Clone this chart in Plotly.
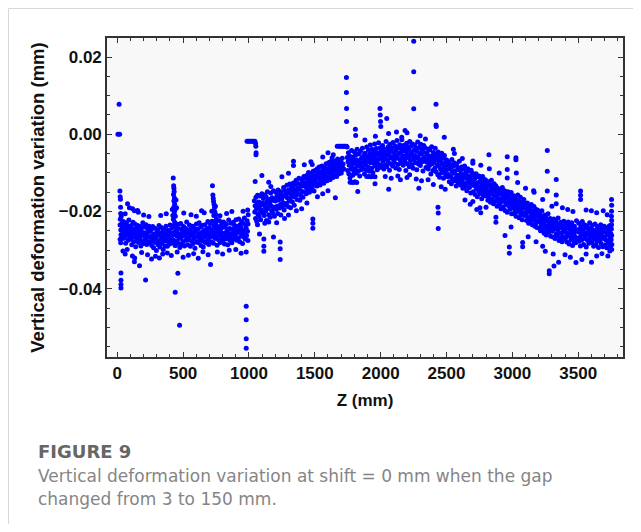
import plotly.graph_objects as go

# Data: (Z in mm, vertical deformation variation in micrometres)
start_pts = [(5, 0.0), (18, 0.0), (14, 7.8), (20, -14.7), (22, -16.2), (24, -16.8), (25, -18.9), (26, -20.5),
             (23, -22.0), (21, -23.5), (27, -24.8), (28, -26.0), (22, -27.2), (26, -28.1), (28, -35.9),
             (28, -37.8), (28, -38.9), (28, -39.8), (30, -21.3)]

left_band = [(35,-23.1),(38,-25.9),(41,-24.2),(44,-27.0),(46,-22.6),(49,-25.4),(52,-24.8),(55,-26.7),(58,-23.5),(61,-25.1),(64,-28.2),(67,-24.0),(70,-22.9),(73,-26.1),(76,-25.6),(79,-23.8),(82,-27.4),(85,-24.6),(88,-22.2),(91,-25.8),(94,-26.9),(97,-24.3),
(101,-23.7),(104,-27.2),(107,-25.0),(110,-28.6),(113,-24.4),(116,-26.3),(119,-22.8),(122,-25.9),(125,-27.8),(128,-24.9),(131,-26.6),(134,-23.2),(137,-25.4),(140,-29.1),(143,-26.0),(146,-24.1),(149,-27.5),(152,-25.7),(155,-23.6),(158,-26.8),(161,-28.0),(164,-24.7),(167,-25.3),(170,-27.1),(173,-23.9),(176,-26.4),(179,-28.9),(182,-25.1),(185,-24.2),(188,-27.6),(191,-25.8),(194,-22.9),(197,-26.2),(200,-28.3),(204,-25.5),(208,-24.0),(211,-27.3),(214,-26.1),(218,-23.4),(221,-25.9),(224,-28.5),(228,-26.7),(231,-24.5),(235,-27.9),(238,-25.2),(242,-23.8),(245,-26.5),(248,-28.1),
(252,-25.0),(255,-27.7),(259,-24.6),(262,-28.8),(265,-26.2),(269,-23.9),(272,-27.1),(276,-29.4),(279,-25.8),(283,-26.9),(286,-24.3),(290,-28.0),(293,-26.6),(297,-30.1),(300,-25.4),(303,-27.5),(307,-24.8),(310,-28.6),(314,-26.0),(317,-23.6),(321,-27.9),(324,-29.2),(328,-25.6),(331,-26.8),(335,-24.1),(338,-28.3),(342,-27.0),(345,-25.2),(349,-29.8),(352,-26.4),(356,-24.7),(359,-27.6),(363,-28.9),(366,-25.9),(370,-23.8),(373,-27.3),(377,-26.1),(380,-29.0),(384,-24.9),(387,-27.8),(391,-26.5),(394,-25.0),(398,-28.4),(401,-23.5),(405,-27.2),(408,-25.7),
(412,-26.9),(415,-24.2),(419,-28.1),(422,-25.5),(426,-23.7),(429,-27.4),(433,-26.0),(436,-22.8),(440,-28.7),(443,-25.1),(447,-24.0),(450,-27.6),(454,-26.3),(457,-23.3),(461,-28.2),(464,-25.7),(468,-24.4),(471,-27.0),(475,-29.3),(478,-25.9),(482,-23.1),(485,-26.8),(489,-28.4),(492,-24.6),(496,-25.3),(499,-27.8),(503,-23.9),(506,-26.2),(510,-28.9),(513,-25.0),(517,-24.3),
(520,-27.4),(524,-25.6),(527,-22.7),(531,-26.9),(534,-28.6),(538,-24.8),(541,-25.9),(545,-27.3),(548,-23.5),(552,-26.4),(555,-29.0),(559,-25.2),(562,-24.1),(566,-27.7),(569,-26.0),(573,-23.8),(576,-28.3),(580,-25.5),(583,-27.0),(587,-24.4),(590,-29.5),(594,-26.6),(597,-25.1),(601,-23.2),(604,-27.9),(608,-26.3),(611,-24.6),(615,-28.0),(618,-25.8),(622,-22.9),(625,-27.2),(629,-26.1),(632,-24.0),(636,-28.8),(639,-25.4),(643,-27.5),(646,-23.6),(650,-26.7),(653,-29.2),(657,-24.9),(660,-25.7),(664,-27.8),(667,-23.4),(671,-26.5),(674,-28.1),(678,-24.5),(681,-25.3),(685,-27.6),(688,-22.6),(692,-26.0),(695,-28.5),
(699,-24.2),(702,-26.7),(706,-23.1),(709,-25.6),(713,-27.9),(716,-24.8),(720,-22.5),(723,-26.3),(727,-25.1),(730,-28.2),(734,-23.7),(737,-25.9),(741,-27.0),(744,-24.3),(748,-22.9),(751,-26.6),(755,-25.4),(758,-28.7),(762,-23.9),(765,-25.0),(769,-27.3),(772,-24.6),(776,-22.4),(779,-26.1),(783,-28.0),(786,-25.2),(790,-23.5),(793,-26.8),(797,-24.1),(800,-27.6),(804,-25.7),(807,-22.7),(811,-26.4),(814,-28.4),(818,-24.0),(821,-25.5),(825,-27.1),(828,-23.3),(832,-26.0),(835,-24.7),(839,-28.6),(842,-25.3),(846,-22.2),(849,-26.9),(853,-24.4),(856,-27.4),(860,-25.8),(863,-23.0),(867,-26.2),(870,-28.1),(874,-24.5),(877,-25.6),(881,-22.8),(884,-27.2),(888,-25.0),(891,-23.6),(895,-26.5),
(898,-24.9),(902,-22.1),(905,-25.7),(909,-27.4),(912,-23.8),(916,-24.6),(919,-26.9),(923,-21.9),(926,-25.2),(930,-27.8),(933,-23.4),(937,-24.1),(940,-26.3),(944,-22.6),(947,-25.5),(951,-28.3),(954,-23.0),(958,-24.8),(961,-26.6),(965,-21.7),(968,-25.9),(972,-27.1),(975,-23.6),(979,-24.4),(982,-26.2),(986,-22.4),(989,-25.1),(992,-27.5),(994,-20.8),(990,-19.6),(993,-23.2)]

left_out = [(78,-18.0),(92,-19.0),(116,-19.3),(130,-19.8),(154,-19.7),(160,-20.2),(60,-20.6),(200,-20.9),(240,-21.3),(330,-21.0),(372,-20.6),(505,-20.4),(560,-20.8),(600,-21.2),(640,-19.8),(660,-20.3),(780,-21.1),(830,-20.5),(870,-20.0),(955,-19.9),
(425,-11.3),(428,-13.3),(430,-14.0),(432,-14.8),(427,-15.6),(434,-16.5),(430,-17.3),(436,-18.1),(429,-18.9),(438,-19.6),(433,-20.4),(441,-21.2),(426,-22.0),(446,-17.0),(450,-19.0),(418,-19.5),(422,-21.0),
(723,-13.3),(726,-15.7),(729,-16.6),(731,-17.4),(735,-18.2),(738,-19.0),(741,-20.1),(733,-21.0),(745,-18.6),(748,-20.8),(718,-19.9),(752,-22.0),
(43,-30.2),(60,-31.0),(75,-29.8),(115,-31.5),(130,-33.0),(132,-32.0),(169,-34.0),(185,-30.6),(230,-31.2),(260,-32.3),(290,-31.6),(320,-32.0),(345,-31.0),(380,-30.7),(410,-31.4),(440,-28.8),(455,-30.5),(500,-31.8),(540,-31.3),(580,-30.9),(615,-32.1),(650,-30.4),(708,-33.7),(690,-31.2),(760,-30.5),(800,-31.0),(850,-30.0),(900,-29.8),(940,-30.8),(979,-30.5),
(215,-37.7),(440,-40.9),(460,-36.0),(473,-49.4),(979,-44.5),(979,-48.0),(979,-52.9),(979,-55.4),
(985,-1.8),(995,-1.8),(1005,-1.8),(1015,-1.8),(1025,-1.8),(1035,-1.8),(1045,-1.8),(1050,-2.4),(1052,-3.1),(1054,-4.8),(1053,-5.3)]

mid_band = [(1041,-17.2),(1044,-20.1),(1047,-18.5),(1050,-21.8),(1053,-16.3),(1056,-19.4),(1059,-22.6),(1062,-18.0),(1065,-15.8),(1068,-20.7),(1071,-19.1),(1074,-17.5),(1077,-21.3),(1080,-18.7),(1083,-16.0),(1086,-20.2),(1089,-22.1),(1092,-17.8),(1095,-19.6),(1098,-15.4),
(1102,-18.2),(1105,-20.4),(1109,-16.6),(1112,-17.9),(1116,-21.0),(1119,-15.7),(1123,-18.8),(1126,-19.9),(1130,-16.2),(1133,-22.3),(1137,-17.4),(1140,-14.9),(1144,-19.2),(1147,-18.0),(1151,-20.8),(1154,-16.9),(1158,-17.6),(1161,-21.5),(1165,-15.2),(1168,-18.5),(1172,-19.7),(1175,-16.4),(1179,-20.3),(1182,-17.1),(1186,-14.6),(1189,-18.9),(1193,-21.2),(1196,-16.8),
(1200,-17.3),(1204,-15.0),(1207,-19.4),(1211,-16.1),(1214,-18.6),(1218,-20.5),(1221,-14.4),(1225,-17.0),(1228,-16.3),(1232,-19.1),(1235,-15.5),(1239,-18.2),(1242,-20.9),(1246,-14.9),(1249,-16.7),(1253,-18.8),(1256,-15.9),(1260,-17.7),(1263,-13.8),(1267,-19.6),(1270,-16.0),(1274,-18.3),(1277,-14.7),
(1281,-15.6),(1284,-17.9),(1288,-13.2),(1291,-16.4),(1295,-18.7),(1298,-14.5),(1302,-15.2),(1305,-17.3),(1309,-12.9),(1312,-16.8),(1316,-19.0),(1319,-14.1),(1323,-15.9),(1326,-13.6),(1330,-17.5),(1333,-15.0),(1337,-12.6),(1340,-16.2),(1344,-18.4),(1347,-14.3),
(1351,-13.0),(1354,-15.8),(1358,-11.9),(1361,-14.6),(1365,-16.9),(1368,-12.7),(1372,-13.9),(1375,-15.5),(1379,-11.4),(1382,-14.2),(1386,-17.1),(1389,-12.9),(1393,-13.5),(1396,-15.9),(1400,-11.6),(1403,-14.8),(1407,-12.2),(1410,-16.3),(1414,-13.3),(1417,-10.9),
(1421,-12.8),(1424,-14.9),(1428,-11.3),(1431,-13.6),(1435,-15.4),(1438,-10.7),(1442,-12.4),(1445,-14.1),(1449,-11.8),(1452,-9.9),(1456,-13.2),(1459,-15.0),(1463,-11.0),(1466,-12.7),(1470,-14.4),(1473,-10.3),(1477,-12.0),(1480,-13.8),(1484,-11.5),(1487,-9.6),(1491,-13.0),(1494,-14.7),(1498,-10.8),
(1502,-11.9),(1505,-9.3),(1509,-12.6),(1512,-10.4),(1516,-13.4),(1519,-8.9),(1523,-11.2),(1526,-12.9),(1530,-10.0),(1533,-8.5),(1537,-11.7),(1540,-13.1),(1544,-9.7),(1547,-10.9),(1551,-12.3),(1554,-8.2),(1558,-10.5),(1561,-11.8),(1565,-9.1),(1568,-12.7),(1572,-10.2),(1575,-8.7),(1579,-11.4),
(1582,-9.8),(1586,-7.6),(1589,-10.9),(1593,-12.0),(1596,-8.9),(1600,-9.5),(1603,-11.3),(1607,-7.3),(1610,-10.1),(1614,-8.4),(1617,-11.7),(1621,-9.0),(1624,-7.0),(1628,-10.6),(1631,-8.1),(1635,-9.9),(1638,-11.2),(1642,-7.8),(1645,-9.3),
(1649,-8.6),(1652,-10.4),(1656,-6.9),(1659,-9.0),(1663,-7.5),(1666,-10.9),(1670,-8.3),(1673,-6.4),(1677,-9.6),(1680,-7.9),(1684,-10.2),(1687,-8.8),(1691,-6.7),(1694,-9.4),(1698,-7.2),(1701,-10.0),(1705,-8.5),(1708,-6.2),(1712,-9.1),(1715,-7.7),(1719,-8.9)]

mid_out = [(1047,-12.2),(1098,-10.7),(1166,-13.5),(1080,-25.8),(1113,-27.1),(1113,-29.0),(1113,-30.3),(1186,-26.6),(1237,-27.9),(1237,-29.6),(1237,-32.4),(1338,-7.0),(1338,-8.1),(1470,-7.1),(1480,-7.8),(1485,-21.9),(1485,-23.0),(1485,-24.3),(1656,-16.4),(1631,-6.1),(1640,-5.3),(1065,-23.4),(1120,-23.0),(1150,-22.7),(1210,-22.9),(1270,-21.8),(1300,-20.9),(1360,-19.8),(1400,-19.3),(1440,-17.8),(1520,-16.2),(1560,-15.4),(1600,-14.6),(1150,-12.4),(1250,-11.0),(1300,-10.1),(1420,-7.9),(1560,-5.9),(1600,-4.8),
(1670,-3.1),(1680,-3.1),(1690,-3.1),(1700,-3.1),(1710,-3.1),(1720,-3.1),(1730,-3.1),(1740,-3.1),(1745,-3.3),
(1740,14.7),(1740,10.8),(1741,6.7),(1741,3.3)]

top_band = [(1746,-6.0),(1749,-9.4),(1752,-7.1),(1755,-4.8),(1758,-10.2),(1761,-8.0),(1764,-5.6),(1767,-11.3),(1770,-7.4),(1773,-6.3),(1776,-9.0),(1779,-4.2),(1782,-8.6),(1785,-7.8),(1788,-10.6),(1791,-5.9),(1794,-6.8),(1797,-9.7),
(1801,-4.6),(1804,-7.5),(1807,-8.9),(1811,-5.3),(1814,-10.1),(1817,-6.6),(1821,-3.9),(1824,-8.2),(1827,-7.0),(1831,-9.5),(1834,-5.1),(1837,-6.9),(1841,-10.8),(1844,-7.7),(1847,-4.4),(1851,-8.4),(1854,-6.2),(1857,-9.1),(1861,-3.6),(1864,-7.3),(1867,-8.7),(1871,-5.5),(1874,-6.4),(1877,-10.3),(1881,-4.9),(1884,-7.9),(1887,-6.1),(1891,-9.3),(1894,-3.3),(1897,-7.2),
(1901,-5.8),(1904,-8.5),(1907,-4.1),(1911,-6.7),(1914,-9.6),(1917,-5.0),(1921,-2.8),(1924,-7.4),(1927,-6.3),(1931,-8.8),(1934,-3.9),(1937,-5.6),(1941,-9.9),(1944,-6.9),(1947,-4.5),(1951,-7.6),(1954,-2.5),(1957,-6.0),(1961,-8.3),(1964,-5.2),(1967,-3.7),(1971,-7.1),(1974,-9.2),(1977,-4.8),(1981,-6.5),(1984,-2.2),(1987,-7.8),(1991,-5.4),(1994,-8.6),(1997,-3.5),
(2001,-6.2),(2004,-4.3),(2007,-8.1),(2011,-5.7),(2014,-2.9),(2017,-7.0),(2021,-5.0),(2024,-9.0),(2027,-3.8),(2031,-6.4),(2034,-4.6),(2037,-7.9),(2041,-1.9),(2044,-5.5),(2047,-8.4),(2051,-4.0),(2054,-6.7),(2057,-3.2),(2061,-7.4),(2064,-5.1),(2067,-9.3),(2071,-2.6),(2074,-6.0),(2077,-4.4),(2081,-7.7),(2084,-3.6),(2087,-5.8),(2091,-8.2),(2094,-2.1),(2097,-6.5),
(2101,-4.7),(2104,-7.3),(2107,-3.0),(2111,-5.4),(2114,-8.7),(2117,-4.1),(2121,-6.2),(2124,-1.6),(2127,-5.9),(2131,-7.8),(2134,-3.4),(2137,-4.9),(2141,-9.1),(2144,-2.7),(2147,-6.6),(2151,-5.0),(2154,-7.5),(2157,-3.9),(2161,-1.4),(2164,-6.1),(2167,-4.3),(2171,-8.0),(2174,-2.9),(2177,-5.6),(2181,-7.0),(2184,-3.7),(2187,-6.4),(2191,-9.4),(2194,-4.5),(2197,-2.3),(2201,-5.3),(2204,-7.6),(2207,-3.3),(2211,-6.0),(2214,-4.0),(2217,-8.4),(2221,-1.9),(2224,-5.2),(2227,-6.8),(2231,-3.1),(2234,-4.8),(2237,-7.9),(2241,-2.5),(2244,-5.7),(2247,-8.8),
(2251,-4.2),(2254,-6.5),(2257,-2.8),(2261,-5.5),(2264,-7.4),(2267,-3.6),(2271,-6.1),(2274,-9.2),(2277,-4.4),(2281,-2.0),(2284,-5.9),(2287,-7.7),(2291,-3.4),(2294,-6.8),(2297,-4.9),(2301,-8.1),(2304,-2.6),(2307,-5.1),(2311,-7.2),(2314,-3.9),(2317,-6.4),(2321,-9.5),(2324,-4.6),(2327,-2.9),(2331,-5.8),(2334,-7.0),(2337,-3.5),(2341,-6.6),(2344,-8.6),
(2351,-4.8),(2354,-7.3),(2357,-5.4),(2361,-9.0),(2364,-3.8),(2367,-6.2),(2371,-8.1),(2374,-4.1),(2377,-6.9),(2381,-10.3),(2384,-5.6),(2387,-3.2),(2391,-7.6),(2394,-6.0),(2397,-9.4),(2401,-4.7),(2404,-7.1),(2407,-5.9),(2411,-8.8),(2414,-3.6),(2417,-6.5),
(2421,-9.7),(2424,-5.3),(2427,-7.9),(2431,-6.4),(2434,-10.5),(2437,-4.6),(2441,-8.2),(2444,-7.0),(2447,-11.1),(2451,-5.7),(2454,-8.9),(2457,-6.8),(2461,-10.0),(2464,-4.9),(2467,-7.7),(2471,-9.3),(2474,-6.1),(2477,-11.4),(2481,-8.4),(2484,-5.5),(2487,-9.8),(2491,-7.3),(2494,-10.7),(2497,-6.6)]

top_out = [(1808,1.3),(1810,-0.3),(1995,6.7),(1997,5.0),(1999,3.3),(2001,2.0),(2046,4.1),(2185,1.0),(2251,24.1),(2251,16.2),(2251,6.6),(2420,7.8),(2420,2.4),(2422,2.0),(2483,-0.8),(1880,-1.5),(1960,-0.5),(2060,0.2),(2120,0.6),(2200,0.4),(2300,-0.4),(2340,-1.2),(2160,-0.8),
(1768,-12.4),(1780,-12.4),(1792,-12.5),(1805,-12.3),(1818,-12.5),(1826,-14.8),(1894,-10.9),(1910,-10.9),(1925,-11.0),(1940,-10.9),(1957,-11.0),(1957,-12.8),(2061,-14.2),(2035,-10.9),(2080,-11.4),(2130,-10.8),(2150,-11.8),(2200,-11.2),(2220,-10.5),(2290,-14.0),(2270,-11.6),(2310,-12.0),(2360,-11.8),(2400,-13.0),(2435,-18.9),(2437,-20.4),(2437,-24.4),(2460,-13.6),(2490,-14.2)]

right_band = [(2501,-9.2),(2504,-6.8),(2507,-11.0),(2511,-8.1),(2514,-10.4),(2517,-7.2),(2521,-12.3),(2524,-9.0),(2527,-7.9),(2531,-10.9),(2534,-8.6),(2537,-12.8),(2541,-6.5),(2544,-9.7),(2547,-11.6),(2551,-8.3),(2554,-10.1),(2557,-7.4),(2561,-12.0),(2564,-9.5),(2567,-8.0),(2571,-11.3),(2574,-13.4),(2577,-7.7),(2581,-10.6),(2584,-9.1),(2587,-12.5),(2591,-8.7),(2594,-10.8),(2597,-7.0),
(2601,-11.9),(2604,-9.4),(2607,-13.1),(2611,-10.2),(2614,-8.5),(2617,-12.0),(2621,-11.1),(2624,-14.0),(2627,-9.0),(2631,-12.7),(2634,-10.5),(2637,-8.2),(2641,-13.5),(2644,-11.4),(2647,-9.8),(2651,-12.9),(2654,-14.6),(2657,-10.8),(2661,-8.9),(2664,-12.2),(2667,-11.7),(2671,-9.6),(2674,-13.8),(2677,-10.9),(2681,-12.6),(2684,-15.2),(2687,-9.3),(2691,-11.8),(2694,-13.0),(2697,-10.1),
(2701,-12.2),(2704,-14.9),(2707,-10.6),(2711,-13.3),(2714,-11.5),(2717,-15.6),(2721,-12.8),(2724,-10.2),(2727,-14.1),(2731,-13.0),(2734,-16.2),(2737,-11.0),(2741,-12.5),(2744,-14.7),(2747,-10.8),(2751,-13.8),(2754,-15.3),(2757,-12.1),(2761,-11.3),(2764,-14.4),(2767,-16.7),(2771,-12.9),(2774,-10.9),(2777,-13.6),(2781,-15.8),(2784,-12.4),(2787,-14.9),(2791,-11.7),(2794,-13.1),(2797,-16.0),
(2801,-14.3),(2804,-12.0),(2807,-15.7),(2811,-13.4),(2814,-17.1),(2817,-14.8),(2821,-12.6),(2824,-16.3),(2827,-15.0),(2831,-13.1),(2834,-17.6),(2837,-14.0),(2841,-11.9),(2844,-15.4),(2847,-16.8),(2851,-13.7),(2854,-14.6),(2857,-18.0),(2861,-12.8),(2864,-15.9),(2867,-14.2),(2871,-17.3),(2874,-13.3),(2877,-16.1),(2881,-15.2),(2884,-18.6),(2887,-13.9),(2891,-16.6),(2894,-14.5),(2897,-17.8),
(2901,-15.5),(2904,-18.2),(2907,-14.3),(2911,-16.9),(2914,-19.3),(2917,-15.0),(2921,-17.4),(2924,-13.8),(2927,-16.2),(2931,-18.8),(2934,-15.8),(2937,-17.0),(2941,-14.6),(2944,-19.7),(2947,-16.5),(2951,-18.1),(2954,-15.3),(2957,-17.7),(2961,-20.2),(2964,-16.0),(2967,-14.9),(2971,-18.5),(2974,-17.2),(2977,-15.6),(2981,-19.4),(2984,-16.8),(2987,-18.0),(2991,-15.1),(2994,-20.6),(2997,-17.5),
(3001,-16.4),(3004,-19.1),(3007,-18.3),(3011,-15.9),(3014,-20.5),(3017,-17.8),(3021,-19.6),(3024,-16.7),(3027,-21.2),(3031,-18.6),(3034,-17.1),(3037,-20.0),(3041,-15.7),(3044,-19.3),(3047,-18.0),(3051,-21.6),(3054,-17.4),(3057,-19.9),(3061,-16.3),(3064,-20.8),(3067,-18.9),(3071,-17.6),(3074,-22.1),(3077,-19.2),(3081,-18.4),(3084,-20.4),(3087,-16.9),(3091,-21.0),(3094,-19.0),(3097,-17.9),
(3101,-20.6),(3104,-18.5),(3107,-22.3),(3111,-19.7),(3114,-17.8),(3117,-21.4),(3121,-20.1),(3124,-23.0),(3127,-18.9),(3131,-21.8),(3134,-19.3),(3137,-22.6),(3141,-20.4),(3144,-18.2),(3147,-21.1),(3151,-23.4),(3154,-19.9),(3157,-20.8),(3161,-22.2),(3164,-18.7),(3167,-21.5),(3171,-23.8),(3174,-20.3),(3177,-19.4),(3181,-22.9),(3184,-21.0),(3187,-24.1),(3191,-19.6),(3194,-22.4),(3197,-20.7),
(3201,-21.9),(3204,-24.3),(3207,-20.5),(3211,-22.8),(3214,-25.0),(3217,-21.2),(3221,-23.6),(3224,-19.8),(3227,-22.1),(3231,-24.7),(3234,-21.6),(3237,-23.2),(3241,-25.6),(3244,-20.9),(3247,-22.5),(3251,-24.0),(3254,-21.4),(3257,-26.1),(3261,-23.9),(3264,-22.0),(3267,-24.9),(3271,-20.6),(3274,-23.4),(3277,-25.3),(3281,-22.7),(3284,-24.4),(3287,-21.8),(3291,-26.4),(3294,-23.1),(3297,-24.6),
(3301,-22.3),(3304,-25.1),(3307,-23.8),(3311,-26.6),(3314,-21.9),(3317,-24.5),(3321,-23.0),(3324,-27.0),(3327,-24.1),(3331,-22.6),(3334,-25.8),(3337,-23.5),(3341,-26.2),(3344,-24.8),(3347,-21.7),(3351,-25.4),(3354,-27.5),(3357,-23.3),(3361,-24.2),(3364,-26.9),(3367,-22.8),(3371,-25.7),(3374,-24.0),(3377,-27.8),(3381,-23.7),(3384,-25.2),(3387,-26.5),(3391,-22.5),(3394,-24.9),(3397,-27.2),
(3401,-24.4),(3404,-26.8),(3407,-23.1),(3411,-25.5),(3414,-27.9),(3417,-24.0),(3421,-26.3),(3424,-22.7),(3427,-25.9),(3431,-28.4),(3434,-24.6),(3437,-26.0),(3441,-23.5),(3444,-27.3),(3447,-25.2),(3451,-22.9),(3454,-26.7),(3457,-28.8),(3461,-24.3),(3464,-25.6),(3467,-27.6),(3471,-23.8),(3474,-26.4),(3477,-24.9),(3481,-28.1),(3484,-25.0),(3487,-22.4),(3491,-26.9),(3494,-24.7),(3497,-27.0),
(3501,-25.3),(3504,-23.0),(3507,-27.7),(3511,-24.5),(3514,-26.6),(3517,-28.9),(3521,-23.9),(3524,-25.8),(3527,-27.3),(3531,-22.6),(3534,-26.1),(3537,-24.8),(3541,-28.5),(3544,-25.4),(3547,-23.4),(3551,-27.0),(3554,-26.3),(3557,-24.2),(3561,-29.2),(3564,-25.7),(3567,-23.7),(3571,-27.4),(3574,-26.0),(3577,-24.6),(3581,-28.2),(3584,-25.1),(3587,-22.9),(3591,-26.8),(3594,-27.9),(3597,-24.3),
(3601,-25.9),(3604,-28.0),(3607,-23.6),(3611,-26.5),(3614,-24.9),(3617,-29.0),(3621,-25.4),(3624,-27.2),(3627,-23.2),(3631,-26.3),(3634,-28.6),(3637,-24.7),(3641,-25.8),(3644,-27.7),(3647,-23.9),(3651,-26.9),(3654,-29.3),(3657,-25.0),(3661,-24.2),(3664,-27.5),(3667,-26.1),(3671,-23.4),(3674,-28.3),(3677,-25.6),(3681,-26.7),(3684,-24.4),(3687,-29.1),(3691,-25.3),(3694,-27.0),(3697,-23.8),
(3701,-26.6),(3704,-28.7),(3707,-24.1),(3711,-27.4),(3714,-25.5),(3717,-29.4),(3721,-26.0),(3724,-24.8),(3727,-28.1),(3731,-25.2),(3734,-27.6),(3737,-23.7),(3741,-26.8),(3744,-29.0),(3747,-25.7),(3750,-27.3),(3752,-24.5),(3754,-26.2),
(3753,-16.9),(3754,-18.4),(3753,-19.9),(3752,-21.2),(3754,-22.3),(3753,-23.4),(3755,-28.5),(3754,-29.8)]

right_out = [(2552,-3.9),(2560,-5.0),(2620,-6.3),(2700,-7.5),(2760,-8.0),(2822,-5.3),(2825,-8.9),(2961,-5.8),(2961,-9.1),(2961,-11.3),(3027,-6.1),(3027,-6.6),(3030,-10.0),(3040,-12.5),(3100,-14.0),(3161,-14.6),(3165,-15.0),(3265,-4.2),(3265,-9.6),(3265,-14.7),(3333,-11.7),(3333,-15.7),(3333,-18.0),(3380,-19.0),(3420,-19.5),(3460,-20.0),(3518,-14.7),(3518,-15.8),(3518,-16.9),(3560,-19.6),(3600,-19.8),(3640,-20.3),(3690,-19.8),(3720,-20.8),(3300,-18.6),(3230,-16.9),(2900,-10.0),(2700,-6.9),
(2640,-17.0),(2680,-18.1),(2700,-17.4),(2730,-19.5),(2754,-19.0),(2760,-20.3),(2800,-18.9),(2875,-22.8),(2875,-21.5),(2944,-26.2),(2977,-29.2),(2977,-30.8),(2990,-24.0),(3078,-29.1),(3078,-28.0),(3120,-26.5),(3180,-27.8),(3280,-35.3),(3280,-36.1),(3316,-34.1),(3351,-33.1),(3310,-31.0),(3400,-31.2),(3440,-31.8),(3483,-33.2),(3528,-32.4),(3560,-31.0),(3601,-33.1),(3640,-31.5),(3680,-30.9),(3725,-31.5),(3740,-30.2),(3230,-29.0),(3250,-30.3)]

x_ticks = [0, 500, 1000, 1500, 2000, 2500, 3000, 3500]
y_ticks = [0.02, 0.00, -0.02, -0.04]

all_pts = start_pts + left_band + left_out + mid_band + mid_out + top_band + top_out + right_band + right_out
z_mm = [p[0] for p in all_pts]
dv_mm = [p[1] / 1000.0 for p in all_pts]

# page has an 8px body margin, so the figure is laid out in page coordinates minus 8
OFF = 8
W, H = 625, 516
L, R, T, B = 99, 10, 30, 167
pw, ph = W - L - R, H - T - B


def px(xs):
    return (xs - OFF - L) / pw


def py(ys):
    return (H - B - (ys - OFF)) / ph


fig = go.Figure()
fig.add_trace(go.Scatter(
    x=z_mm, y=dv_mm, mode="markers",
    marker=dict(color="#0000ff", size=5, line=dict(width=0)),
    showlegend=False, hoverinfo="skip"))

axis_font = dict(family="Liberation Sans, Arial, sans-serif", size=17, color="#111111", weight="bold")
ytitle_font = dict(family="Liberation Sans, Arial, sans-serif", size=18.5, color="#111111", weight="bold")

fig.update_xaxes(
    range=[-78, 3840], tickvals=x_ticks, ticks="inside", ticklen=5, tickwidth=1.2, tickcolor="#333333",
    showline=True, linecolor="#333333", linewidth=1.6, mirror="allticks", showgrid=False, zeroline=False,
    tickfont=axis_font, title=dict(text="Z (mm)", font=axis_font, standoff=12),
    minor=dict(dtick=100, ticks="inside", ticklen=3, tickwidth=1, tickcolor="#333333", showgrid=False))
fig.update_yaxes(
    range=[-0.05765, 0.02492], tickvals=y_ticks, tickformat=".2f", ticks="inside", ticklen=5, tickwidth=1.2,
    tickcolor="#333333", showline=True, linecolor="#333333", linewidth=1.6, mirror="allticks",
    showgrid=False, zeroline=False, tickfont=axis_font,
    title=dict(text="Vertical deformation variation (mm)", font=ytitle_font, standoff=9),
    minor=dict(dtick=0.005, ticks="inside", ticklen=3, tickwidth=1, tickcolor="#333333", showgrid=False))

cap_font = dict(family="DejaVu Sans, Open Sans, sans-serif", size=17, color="#858585")

fig.update_layout(
    width=W, height=H, margin=dict(l=L, r=R, t=T, b=B, autoexpand=False),
    paper_bgcolor="white", plot_bgcolor="#f8f8f8",
    shapes=[
        dict(type="line", xref="paper", yref="paper", x0=px(8.5), x1=px(641), y0=py(8.5), y1=py(8.5),
             line=dict(color="#d8d8d8", width=1)),
        dict(type="line", xref="paper", yref="paper", x0=px(8.5), x1=px(8.5), y0=py(8.5), y1=py(532),
             line=dict(color="#d8d8d8", width=1)),
    ],
    annotations=[
        dict(text="FIGURE 9", xref="paper", yref="paper", x=px(36), y=py(451), xanchor="left",
             yanchor="middle", showarrow=False,
             font=dict(family="DejaVu Sans, Open Sans, sans-serif", size=18, color="#666666", weight="bold")),
        dict(text="Vertical deformation variation at shift = 0 mm when the gap", xref="paper", yref="paper",
             x=px(36), y=py(476), xanchor="left", yanchor="middle", showarrow=False, font=cap_font),
        dict(text="changed from 3 to 150 mm.", xref="paper", yref="paper",
             x=px(36), y=py(499), xanchor="left", yanchor="middle", showarrow=False, font=cap_font),
    ],
)

fig.write_html("out.html")
